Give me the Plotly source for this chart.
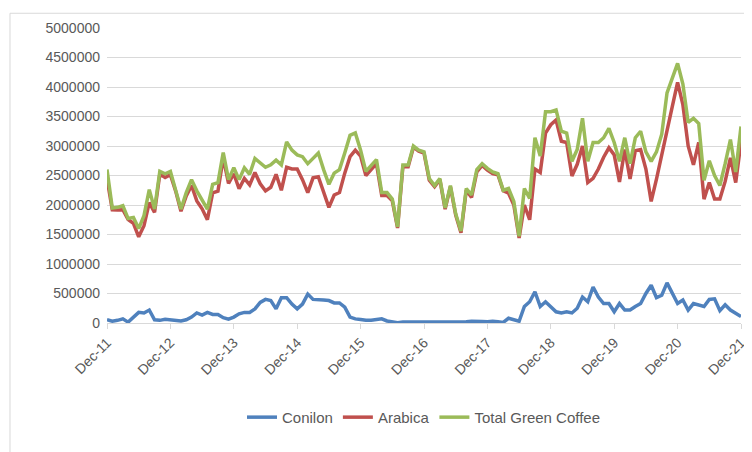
import plotly.graph_objects as go

tick_labels = ["Dec-11","Dec-12","Dec-13","Dec-14","Dec-15","Dec-16","Dec-17","Dec-18","Dec-19","Dec-20","Dec-21"]

conilon = [55,30,45,70,15,100,180,170,220,55,45,65,55,35,35,55,100,170,135,180,145,145,90,65,100,
           155,180,180,240,350,400,380,240,430,430,320,240,320,490,400,400,390,380,340,340,270,100,70,60,45,
           45,60,70,35,15,5,15,10,15,15,15,
           20,15,15,15,15,20,20,20,30,35,25,20,
           30,20,10,80,55,30,280,360,530,280,360,280,
           190,170,190,170,250,440,360,610,440,330,330,190,
           330,220,220,280,330,500,640,430,470,680,500,330,
           390,220,330,310,280,400,410,210,310,220,170,110]
arabica = [2450,1920,1915,1920,1755,1690,1460,1650,2040,1875,2525,2465,2515,2235,1895,2155,2330,2070,1935,1750,2205,2235,2800,2365,2530,
           2275,2450,2340,2550,2360,2240,2300,2520,2250,2640,2610,2610,2430,2210,2460,2480,2210,1960,2170,2210,2540,2820,2930,2830,
           2500,2600,2700,2160,2160,2070,1610,2650,2650,2980,2910,2880,
           2420,2310,2430,1930,2310,1830,1530,2250,2130,2560,2670,2590,
           2530,2510,2240,2200,2000,1440,2000,1750,2610,2550,3220,3360,
           3440,3080,3060,2490,2690,3000,2380,2450,2610,2810,2970,2850,
           2390,2940,2440,2920,2940,2610,2060,2440,2830,3280,3670,4080,
           3700,3000,2680,3060,2100,2380,2100,2100,2400,2800,2380,3070]
total = [2600,1950,1960,1990,1770,1790,1600,1820,2260,1930,2570,2530,2570,2270,1930,2210,2430,2240,2070,1930,2350,2380,2890,2430,2630,
         2430,2630,2520,2790,2710,2640,2680,2760,2680,3070,2930,2850,2820,2700,2790,2880,2600,2350,2540,2600,2880,3180,3220,2930,
         2570,2660,2770,2210,2210,2100,1630,2680,2680,3000,2930,2900,
         2450,2330,2450,1950,2330,1850,1560,2280,2170,2600,2700,2620,
         2560,2530,2250,2280,2060,1470,2280,2110,3140,2830,3580,3580,
         3610,3250,3220,2740,2940,3470,2740,3060,3060,3140,3300,3060,
         2740,3140,2700,3140,3250,2900,2740,2900,3200,3900,4170,4400,
         4050,3400,3470,3380,2420,2750,2500,2330,2700,3110,2560,3330]

x = list(range(len(total)))
fig = go.Figure()
for name, vals, col in [("Conilon", conilon, "#4F81BD"), ("Arabica", arabica, "#C0504D"),
                        ("Total Green Coffee", total, "#9BBB59")]:
    fig.add_trace(go.Scatter(x=x, y=[v*1000 for v in vals], name=name, mode="lines",
                             line=dict(color=col, width=3.5)))

fig.update_layout(
    width=752, height=452, paper_bgcolor="white", plot_bgcolor="white",
    margin=dict(l=99, r=12, t=16, b=137),
    font=dict(family="Liberation Sans", size=14, color="#595959"),
    legend=dict(orientation="h", x=0.5, xanchor="center", y=-0.32, yanchor="middle",
                font=dict(size=15)),
    xaxis=dict(range=[0, 120], tickvals=list(range(0, 121, 12)), ticktext=tick_labels,
               tickangle=-45, showgrid=False, showline=True, linecolor="#D9D9D9",
               ticks="outside", tickcolor="#D9D9D9", ticklen=5, zeroline=False),
    yaxis=dict(range=[0, 5000000], dtick=500000, tickformat="d", gridcolor="#D9D9D9",
               zeroline=False, showline=False, ticklabelstandoff=6),
    shapes=[dict(type="rect", xref="paper", yref="paper", x0=-0.153, x1=1.0156, y0=-0.45, y1=1.05,
                 line=dict(color="#D9D9D9", width=1))],
)
fig.write_html("out.html")
